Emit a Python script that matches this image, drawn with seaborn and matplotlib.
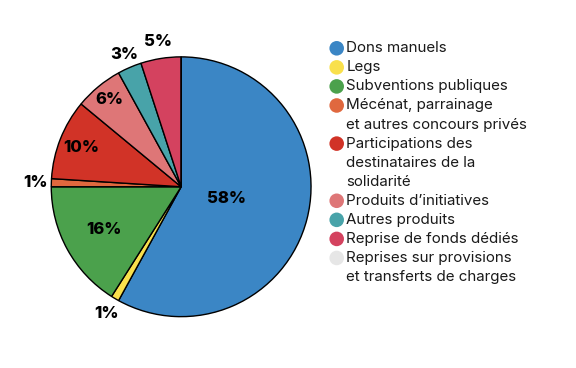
import numpy as np
import matplotlib
matplotlib.use("Agg")
import matplotlib.pyplot as plt
import seaborn as sns

sns.set_theme(style="white")
plt.rcParams["font.family"] = ["Inter", "DejaVu Sans"]

# data
categories = [
    "Dons manuels",
    "Legs",
    "Subventions publiques",
    "Mécénat, parrainage\net autres concours privés",
    "Participations des\ndestinataires de la\nsolidarité",
    "Produits d’initiatives",
    "Autres produits",
    "Reprise de fonds dédiés",
    "Reprises sur provisions\net transferts de charges",
]
shares = [58, 1, 16, 1, 10, 6, 3, 5, 0]
labels = ["58%", "1%", "16%", "1%", "10%", "6%", "3%", "5%", ""]
colors = ["#3b86c5", "#f9e04c", "#4ba14c", "#e0683e", "#d13327",
          "#de7677", "#48a3a9", "#d4425f", "#e6e6e6"]

# radial position of each percentage label (fraction of radius)
label_r = [0.36, 1.13, 0.68, 1.12, 0.83, 0.87, 1.11, 1.13, 1.0]

fig = plt.figure(figsize=(5.76, 3.68), dpi=100)
fig.patch.set_facecolor("white")

ax = fig.add_axes([0.089, 0.139, 0.451, 0.707])
wedges, _ = ax.pie(
    shares,
    colors=colors,
    startangle=90,
    counterclock=False,
    radius=1,
    wedgeprops=dict(edgecolor="black", linewidth=1.0),
)
ax.set_xlim(-1, 1)
ax.set_ylim(-1, 1)
ax.set_aspect("equal")

for w, lab, r in zip(wedges, labels, label_r):
    if not lab:
        continue
    mid = np.deg2rad((w.theta1 + w.theta2) / 2)
    ax.text(r * np.cos(mid), r * np.sin(mid), lab, ha="center", va="center",
            fontsize=12, fontweight="heavy", color="black", clip_on=False)

# legend drawn by hand in pixel coordinates
lax = fig.add_axes([0, 0, 1, 1])
lax.set_xlim(0, 576)
lax.set_ylim(368, 0)
lax.axis("off")

step = 19.06
row = 0
for cat, col in zip(categories, colors):
    y = 48.3 + step * row
    lax.scatter([336.7], [y], s=110, color=col, edgecolor="none")
    for line in cat.split("\n"):
        lax.text(346.5, 48.3 + step * row, line, ha="left", va="center",
                 fontsize=10.9, color="#1a1a1a")
        row += 1

fig.savefig("out.png", dpi=100, facecolor="white")
